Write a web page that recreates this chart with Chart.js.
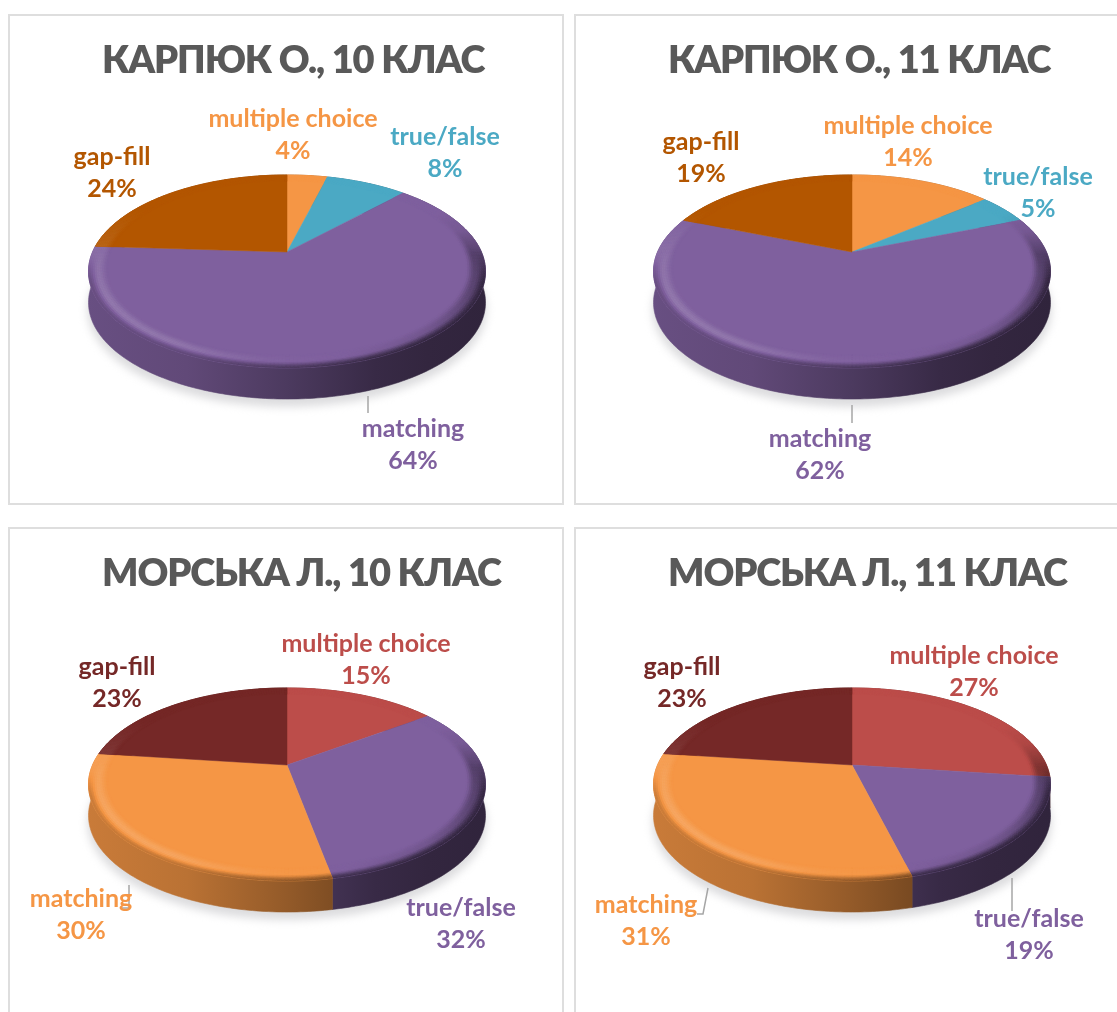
<!DOCTYPE html>
<html><head><meta charset="utf-8">
<script src="https://cdn.jsdelivr.net/npm/chart.js@4"></script>
<style>
html,body{margin:0;padding:0;background:#fff;overflow:hidden;width:1117px;height:1012px}
.card{position:absolute}
.frame{position:absolute;inset:0;box-sizing:border-box;border:2px solid #dedede}
canvas{position:absolute;left:0;top:0;filter:blur(.35px)}
</style></head><body>
<script>
const categories = ['multiple choice','true/false','matching','gap-fill'];
const titles = ['КАРПЮК О., 10 КЛАС','КАРПЮК О., 11 КЛАС','МОРСЬКА Л., 10 КЛАС','МОРСЬКА Л., 11 КЛАС'];
const karpiuk10 = [4,8,64,24];
const karpiuk11 = [14,5,62,19];
const morska10 = [15,32,30,23];
const morska11 = [27,19,31,23];
const paletteA = ['#F59645','#4BA9C4','#7F609E','#B35600'];
const paletteB = ['#BC4D4A','#7F609E','#F59645','#752827'];

const FONT = 'Lato, "Open Sans", sans-serif';
const layouts = [
 {ox:8,oy:14,w:556,h:491,data:karpiuk10,pal:paletteA,cx:287,cy:252,tx:102,
  labels:[[293,119],[445,137],[413,429],[112,157]],
  leaders:[[[368,396],[368,413]]]},
 {ox:574,oy:14,w:560,h:491,data:karpiuk11,pal:paletteA,cx:852,cy:252,tx:668,
  labels:[[908,126],[1038,177],[820,439],[701,142]],
  leaders:[[[852,405],[852,423]]]},
 {ox:8,oy:527,w:556,h:600,data:morska10,pal:paletteB,cx:287,cy:765,tx:102,
  labels:[[366,644],[461,908],[81,899],[117,667]],
  leaders:[[[129,885],[129,908],[122,908]]]},
 {ox:574,oy:527,w:560,h:600,data:morska11,pal:paletteB,cx:852,cy:765,tx:668,
  labels:[[974,656],[1029,919],[646,905],[682,667]],
  leaders:[[[708,888],[703,914],[697,914]],[[1012,878],[1012,911]]]}
];
const K=0.202, S=92.6, R=194.4, DEPTH=31;
const sideStops=[[0,.82],[.25,.76],[.5,.6],[.72,.44],[.85,.40],[1,.38]];

function rgb(hex,f){
  const n=parseInt(hex.slice(1),16);
  const c=[n>>16,(n>>8)&255,n&255].map(v=>{
    let x = f<=1 ? v*f : v+(255-v)*(f-1);
    return Math.round(Math.min(255,x));
  });
  return `rgb(${c[0]},${c[1]},${c[2]})`;
}
function proj(L,t,r,dy){
  const u=r*Math.sin(t), v=-r*Math.cos(t), d=1-K*v;
  return [L.cx-L.ox+R*u/d, L.cy-L.oy+S*v/d+(dy||0)];
}
function lookup(pts,x){
  for(let i=1;i<pts.length;i++){
    if(x<=pts[i][0]){const a=pts[i-1],b=pts[i],q=(x-a[0])/(b[0]-a[0]);return a[1]+(b[1]-a[1])*q;}
  }
  return pts[pts.length-1][1];
}
const rimPts=[[0,1],[62,1],[76,.93],[92,.66],[115,.72],[140,.9],[165,1.0],[185,1.03],[210,1.15],[240,1.16],[265,1.12],[285,1.05],[302,1],[360,1]];
function rimShade(t){
  let deg=(t*180/Math.PI)%360; if(deg<0)deg+=360;
  return lookup(rimPts,deg);
}
const smooth=s=>{s=Math.max(0,Math.min(1,s));return s*s*(3-2*s);};
const pie3d={
  id:'pie3d',
  beforeDraw(chart){ chart.ctx.letterSpacing='-1.1px'; },
  beforeDatasetsDraw(chart){
    const L=chart.options.plugins.pie3d.layout, ctx=chart.ctx;
    ctx.letterSpacing='0px';
    const arcs=chart.getDatasetMeta(0).data;
    const left=L.cx-L.ox-R*1.03, right=L.cx-L.ox+R*1.03;
    const span=a=>({a:a.startAngle+Math.PI/2,b:a.endAngle+Math.PI/2});
    // soft shadow
    ctx.save();
    ctx.filter='blur(4px)';
    ctx.fillStyle='#dcdcde';
    ctx.beginPath();
    for(let i=0;i<=180;i++){const p=proj(L,i/180*2*Math.PI,1.005,DEPTH+7);i?ctx.lineTo(p[0],p[1]):ctx.moveTo(p[0],p[1]);}
    ctx.closePath();ctx.fill();
    ctx.restore();
    // side wall
    arcs.forEach((arc,i)=>{
      const {a,b}=span(arc), col=L.pal[i];
      const g=ctx.createLinearGradient(left,0,right,0);
      sideStops.forEach(s=>g.addColorStop(s[0],rgb(col,s[1])));
      ctx.fillStyle=g;ctx.strokeStyle=g;ctx.lineWidth=.6;
      const n=Math.max(4,Math.ceil((b-a)*60));
      ctx.beginPath();
      for(let k=0;k<=n;k++){const p=proj(L,a+(b-a)*k/n,1,0);k?ctx.lineTo(p[0],p[1]):ctx.moveTo(p[0],p[1]);}
      for(let k=n;k>=0;k--){const p=proj(L,a+(b-a)*k/n,1,DEPTH);ctx.lineTo(p[0],p[1]);}
      ctx.closePath();ctx.fill();ctx.stroke();
    });
    // top face
    arcs.forEach((arc,i)=>{
      const {a,b}=span(arc), col=L.pal[i];
      const n=Math.max(4,Math.ceil((b-a)*60));
      ctx.fillStyle=col;ctx.strokeStyle=col;ctx.lineWidth=.5;
      ctx.beginPath();
      const o=proj(L,0,0,0);ctx.moveTo(o[0],o[1]);
      for(let k=0;k<=n;k++){const p=proj(L,a+(b-a)*k/n,1,0);ctx.lineTo(p[0],p[1]);}
      ctx.closePath();ctx.fill();ctx.stroke();
      // bevelled rim, ring by ring: face colour, highlight, then blending into the wall
      const rings=10, r0=.905;
      for(let q=0;q<rings;q++){
        const s0=q/rings, s1=(q+1)/rings, sm=(s0+s1)/2;
        for(let k=0;k<n;k++){
          const t0=a+(b-a)*k/n, t1=a+(b-a)*(k+1)/n, tm=(t0+t1)/2;
          const shade=rimShade(tm);
          const ra=r0+(1-r0)*s0, rb=r0+(1-r0)*s1;
          const pm=proj(L,tm,1,0);
          const xfrac=Math.max(0,Math.min(1,(pm[0]-left)/(right-left)));
          const wall=lookup(sideStops,xfrac);
          const front=smooth((-Math.cos(tm)+.05)/.4);
          let f;
          if(sm<.5) f=1+(shade-1)*smooth(sm/.5);
          else f=shade+(wall-shade)*front*smooth((sm-.5)/.5);
          const c=rgb(col,f);
          ctx.fillStyle=c;ctx.strokeStyle=c;ctx.lineWidth=.4;
          const p1=proj(L,t0,ra),p2=proj(L,t1,ra),p3=proj(L,t1,rb),p4=proj(L,t0,rb);
          ctx.beginPath();ctx.moveTo(p1[0],p1[1]);ctx.lineTo(p2[0],p2[1]);ctx.lineTo(p3[0],p3[1]);ctx.lineTo(p4[0],p4[1]);ctx.closePath();ctx.fill();ctx.stroke();
        }
      }
    });
    return false;
  },
  afterDraw(chart){
    const L=chart.options.plugins.pie3d.layout, ctx=chart.ctx;
    ctx.save();
    ctx.letterSpacing='0px';
    ctx.strokeStyle='#a6a6a6';ctx.lineWidth=1.5;
    L.leaders.forEach(line=>{
      ctx.beginPath();
      line.forEach((p,i)=>{const x=p[0]-L.ox,y=p[1]-L.oy;i?ctx.lineTo(x,y):ctx.moveTo(x,y);});
      ctx.stroke();
    });
    ctx.font='bold 25px '+FONT;
    ctx.textAlign='center';ctx.textBaseline='middle';
    categories.forEach((name,i)=>{
      const [x,y]=L.labels[i];
      ctx.fillStyle=L.pal[i];
      ctx.fillText(name,x-L.ox,y-L.oy);
      ctx.fillText(L.data[i]+'%',x-L.ox,y-L.oy+32);
    });
    ctx.restore();
  }
};
layouts.forEach((L,i)=>{
  const card=document.createElement('div');card.className='card';
  card.style.cssText=`left:${L.ox}px;top:${L.oy}px;width:${L.w}px;height:${L.h}px`;
  const fr=document.createElement('div');fr.className='frame';card.appendChild(fr);
  const cv=document.createElement('canvas');cv.width=L.w;cv.height=L.h;
  cv.style.width=L.w+'px';cv.style.height=L.h+'px';
  card.appendChild(cv);document.body.appendChild(card);
  new Chart(cv,{
    type:'pie',
    plugins:[pie3d],
    data:{labels:categories,datasets:[{data:L.data,backgroundColor:L.pal}]},
    options:{
      responsive:false,animation:false,
      layout:{padding:{left:L.tx-L.ox}},
      plugins:{
        legend:{display:false},tooltip:{enabled:false},
        title:{display:true,align:'start',text:titles[i],color:'#595959',
          font:{family:FONT,size:38,weight:'800'},padding:{top:24,bottom:10}},
        pie3d:{layout:L}
      }
    }
  });
});
</script>
</body></html>
